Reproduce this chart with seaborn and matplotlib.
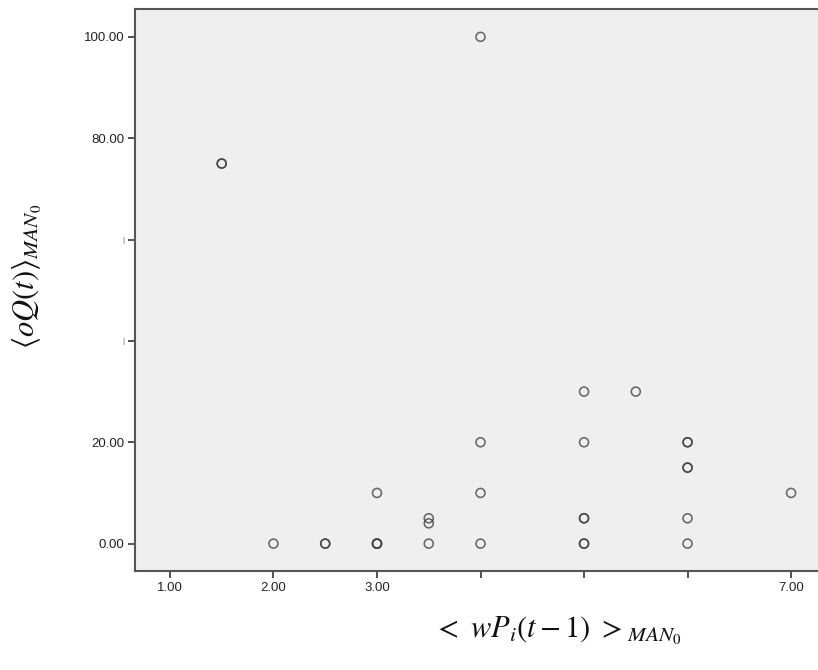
import matplotlib
matplotlib.use("Agg")
import matplotlib.pyplot as plt
import seaborn as sns
import pandas as pd

# observations: mean weighted price vs. mean quantity offered
wp_mean = [1.5, 1.5, 2.0, 2.5, 2.5, 3.0, 3.0, 3.0, 3.0, 3.5, 3.5, 3.5,
           4.0, 4.0, 4.0, 4.0, 5.0, 5.0, 5.0, 5.0, 5.0, 5.0, 5.5,
           6.0, 6.0, 6.0, 6.0, 6.0, 6.0, 7.0]
oq_mean = [75, 75, 0, 0, 0, 0, 0, 0, 10, 0, 4, 5,
           0, 10, 20, 100, 0, 0, 5, 5, 20, 30, 30,
           0, 5, 15, 15, 20, 20, 10]

x_ticks = [1, 2, 3, 4, 5, 6, 7]
x_tick_labels = ["1.00", "2.00", "3.00", "", "", "", "7.00"]
y_ticks = [0, 20, 40, 60, 80, 100]
y_tick_labels = ["0.00", "20.00", "|", "|", "80.00", "100.00"]

df = pd.DataFrame({"wp": wp_mean, "oq": oq_mean})

sns.set_theme(style="ticks")
plt.rcParams["font.family"] = ["Liberation Sans", "DejaVu Sans"]
plt.rcParams["mathtext.fontset"] = "stix"

fig = plt.figure(figsize=(8.18, 6.70), dpi=100)
ax = fig.add_axes([0.1656, 0.1478, 0.8344, 0.8388])
ax.set_facecolor("#efefef")

sns.scatterplot(data=df, x="wp", y="oq", ax=ax, marker="o", s=42,
                facecolor="none", edgecolor="#3a3a3a", linewidth=1.15,
                alpha=0.75, legend=False)

ax.set_xlim(0.667, 7.26)
ax.set_ylim(-5.4, 105.5)
ax.set_xticks(x_ticks)
ax.set_xticklabels(x_tick_labels)
ax.set_yticks(y_ticks)
ax.set_yticklabels(y_tick_labels)
ax.tick_params(axis="both", direction="out", length=5, width=1.3,
               color="#444444", labelsize=9.5, labelcolor="#222222", pad=3)
for lab in ax.get_yticklabels():
    if lab.get_text() == "|":
        lab.set_fontsize(6)
        lab.set_color("#555555")

for side in ["left", "bottom", "top"]:
    ax.spines[side].set_color("#555555")
    ax.spines[side].set_linewidth(1.5)
ax.spines["right"].set_visible(False)

ax.set_xlabel("")
ax.set_ylabel("")
fig.text(0.682, 0.058, r"$<\ wP_i(t-1)\ >_{MAN_0}$", fontsize=22,
         ha="center", va="center", color="#111111")
fig.text(0.033, 0.587, r"$\langle oQ(t)\rangle_{MAN_0}$", fontsize=22,
         rotation=90, ha="center", va="center", color="#111111")

fig.savefig("out.png", dpi=100)
